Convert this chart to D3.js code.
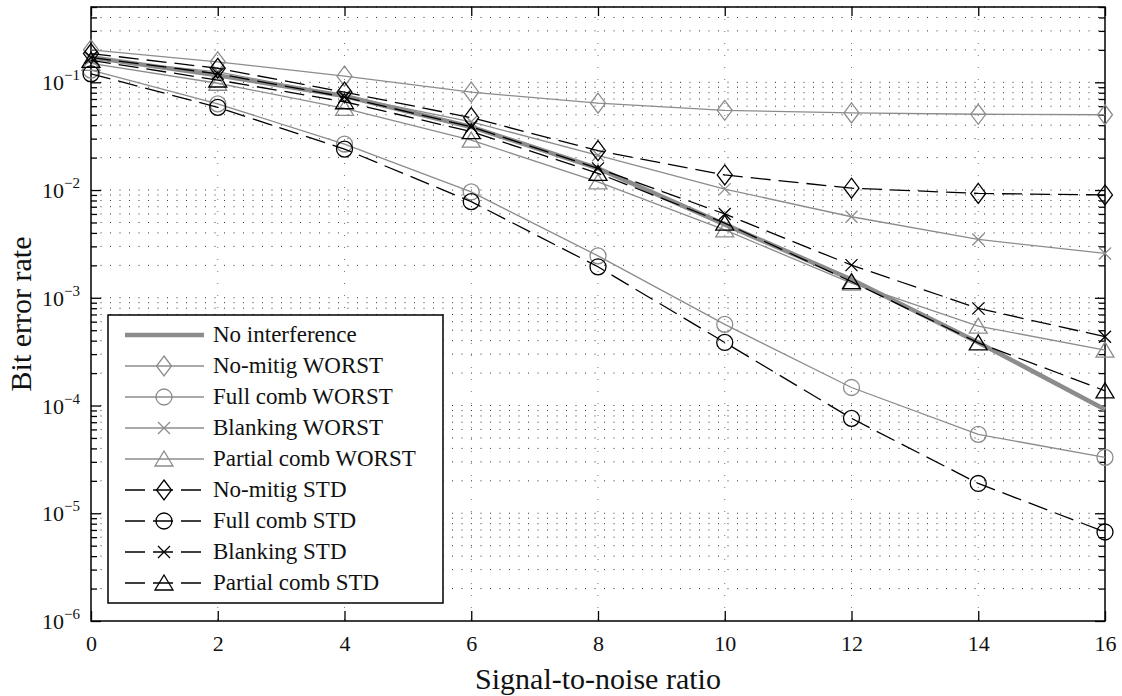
<!doctype html>
<html lang="en-US">

<head>
    <meta charset="UTF-8">
    <title>Bit error rate vs SNR</title>
    <script src="https://d3js.org/d3.v7.js" charset="utf-8"></script>
    <style>
        body { margin: 0; background: #ffffff; }
        svg text { font-family: "Liberation Serif", "DejaVu Serif", serif; fill: #111; }
    </style>
</head>

<body>
    <svg id="cvas" width="1122" height="696"></svg>
    <script>

        // ---- data ---- //
        const snr = [0, 2, 4, 6, 8, 10, 12, 14, 16];

        const no_interference   = [0.171, 0.116, 0.0746, 0.0385, 0.0159, 0.0048, 0.00148, 3.85e-4, 9.2e-5];

        const nomitig_worst     = [0.20, 0.155, 0.114, 0.081, 0.064, 0.055, 0.052, 0.0505, 0.050];
        const fullcomb_worst    = [0.13, 0.063, 0.0267, 0.0096, 0.00245, 5.66e-4, 1.47e-4, 5.4e-5, 3.3e-5];
        const blanking_worst    = [0.165, 0.125, 0.075, 0.043, 0.021, 0.0102, 0.00565, 0.00348, 0.00258];
        const partialcomb_worst = [0.15, 0.098, 0.0574, 0.0291, 0.0119, 0.00426, 0.00137, 5.46e-4, 3.27e-4];

        const nomitig_std       = [0.185, 0.135, 0.081, 0.047, 0.0232, 0.0138, 0.0104, 0.0093, 0.0090];
        const fullcomb_std      = [0.12, 0.0586, 0.024, 0.0078, 0.00194, 3.85e-4, 7.6e-5, 1.89e-5, 6.7e-6];
        const blanking_std      = [0.17, 0.12, 0.073, 0.0387, 0.0159, 0.006, 0.00201, 7.97e-4, 4.35e-4];
        const partialcomb_std   = [0.16, 0.105, 0.066, 0.0348, 0.0143, 0.00494, 0.00141, 3.82e-4, 1.37e-4];

        const x_ticks = [0, 2, 4, 6, 8, 10, 12, 14, 16];
        const y_exponents = [-6, -5, -4, -3, -2, -1];

        const legend_labels = ["No interference", "No-mitig WORST", "Full comb WORST", "Blanking WORST",
            "Partial comb WORST", "No-mitig STD", "Full comb STD", "Blanking STD", "Partial comb STD"];

        const x_label = "Signal-to-noise ratio";
        const y_label = "Bit error rate";

        // ---- style ---- //
        const GRAY = "#8c8c8c";
        const BLACK = "#000000";
        const DASH = "20,8";

        const MARKERS = {
            diamond: "M0,-10L7.5,0L0,10L-7.5,0Z",
            circle: d3.symbol(d3.symbolCircle, 201)(),
            cross: "M-6,-6L6,6M-6,6L6,-6",
            triangle: "M0,-8L9,7L-9,7Z"
        };

        // series in drawing order, the legend follows it
        const series = [
            { values: no_interference, color: GRAY, width: 4.5, dash: null, marker: null },
            { values: nomitig_worst, color: GRAY, width: 1.3, dash: null, marker: "diamond" },
            { values: fullcomb_worst, color: GRAY, width: 1.3, dash: null, marker: "circle" },
            { values: blanking_worst, color: GRAY, width: 1.3, dash: null, marker: "cross" },
            { values: partialcomb_worst, color: GRAY, width: 1.3, dash: null, marker: "triangle" },
            { values: nomitig_std, color: BLACK, width: 1.3, dash: DASH, marker: "diamond" },
            { values: fullcomb_std, color: BLACK, width: 1.3, dash: DASH, marker: "circle" },
            { values: blanking_std, color: BLACK, width: 1.3, dash: DASH, marker: "cross" },
            { values: partialcomb_std, color: BLACK, width: 1.3, dash: DASH, marker: "triangle" }
        ];

        // ---- layout ---- //
        const plot_left = 91, plot_right = 1105, plot_top = 7, plot_bottom = 621;

        const svg = d3.select("#cvas");

        const x_scale = d3.scaleLinear().domain([0, 16]).range([plot_left, plot_right]);
        const y_scale = d3.scaleLog().domain([1e-6, 0.5]).range([plot_bottom, plot_top]);

        // minor + major log values inside the domain
        let y_all = [];
        y_exponents.forEach(e => {
            for (let m = 1; m <= 9; m++) {
                let v = m * Math.pow(10, e);
                if (v <= 0.5 + 1e-12) y_all.push(v);
            }
        });
        const y_major = y_exponents.map(e => Math.pow(10, e));
        const y_minor = y_all.filter(v => !y_major.some(m => Math.abs(m - v) < m * 1e-6));

        // ---- grid ---- //
        const grid = svg.append("g").attr("class", "grid");

        grid.selectAll(".hgrid").data(y_all.filter(v => v > 1e-6))
            .enter().append("line").attr("class", "hgrid")
            .attr("x1", plot_left).attr("x2", plot_right)
            .attr("y1", d => y_scale(d)).attr("y2", d => y_scale(d))
            .style("stroke", "#333").style("stroke-width", 1)
            .style("stroke-dasharray", "1,8.5");

        grid.selectAll(".vgrid").data(x_ticks.slice(1, -1))
            .enter().append("line").attr("class", "vgrid")
            .attr("x1", d => x_scale(d)).attr("x2", d => x_scale(d))
            .attr("y1", plot_top).attr("y2", plot_bottom)
            .style("stroke", "#777").style("stroke-width", 1)
            .style("stroke-dasharray", "1,11");

        // ---- axes ---- //
        function style_axis(g) {
            g.select(".domain").remove();
            g.selectAll(".tick line").style("stroke", BLACK).style("stroke-width", 1.3);
        }

        svg.append("g").attr("transform", `translate(0,${plot_bottom})`)
            .call(d3.axisBottom(x_scale).tickValues(x_ticks).tickSizeInner(-10).tickSizeOuter(0).tickPadding(14))
            .call(style_axis)
            .selectAll("text").style("font-size", "22px").style("font-family", "Liberation Serif").attr("fill", "#111");

        svg.append("g").attr("transform", `translate(0,${plot_top})`)
            .call(d3.axisTop(x_scale).tickValues(x_ticks).tickSizeInner(-9).tickSizeOuter(0).tickFormat(""))
            .call(style_axis);

        // left / right, major and minor ticks pointing inward
        [["left", plot_left, d3.axisLeft], ["right", plot_right, d3.axisRight]].forEach(([side, pos, make_axis]) => {
            svg.append("g").attr("transform", `translate(${pos},0)`)
                .call(make_axis(y_scale).tickValues(y_major).tickSizeInner(-10).tickSizeOuter(0).tickFormat(""))
                .call(style_axis);
            svg.append("g").attr("transform", `translate(${pos},0)`)
                .call(make_axis(y_scale).tickValues(y_minor).tickSizeInner(-6).tickSizeOuter(0).tickFormat(""))
                .call(style_axis);
        });

        // y tick labels as 10^k
        const y_labels = svg.append("g").selectAll("text").data(y_exponents)
            .enter().append("text")
            .attr("x", 80).attr("y", d => y_scale(Math.pow(10, d)) + 8)
            .attr("text-anchor", "end").style("font-size", "22px");
        y_labels.append("tspan").text("10");
        y_labels.append("tspan").text(d => "\u2212" + Math.abs(d))
            .attr("dy", -10).style("font-size", "15px");

        // frame
        svg.append("rect")
            .attr("x", plot_left).attr("y", plot_top)
            .attr("width", plot_right - plot_left).attr("height", plot_bottom - plot_top)
            .style("fill", "none").style("stroke", BLACK).style("stroke-width", 1.5);

        svg.append("text").text(x_label)
            .attr("x", (plot_left + plot_right) / 2).attr("y", 689)
            .attr("text-anchor", "middle").style("font-size", "30px");

        svg.append("text").text(y_label)
            .attr("transform", `translate(31,${(plot_top + plot_bottom) / 2}) rotate(-90)`)
            .attr("text-anchor", "middle").style("font-size", "30px");

        // ---- series ---- //
        const line = d3.line()
            .x((d, i) => x_scale(snr[i]))
            .y(d => y_scale(d));

        const data_g = svg.append("g").attr("class", "series");

        series.forEach(s => {
            data_g.append("path")
                .attr("d", line(s.values))
                .style("fill", "none").style("stroke", s.color)
                .style("stroke-width", s.width)
                .style("stroke-dasharray", s.dash);

            if (s.marker) {
                data_g.selectAll(null).data(s.values)
                    .enter().append("path")
                    .attr("d", MARKERS[s.marker])
                    .attr("transform", (d, i) => `translate(${x_scale(snr[i])},${y_scale(d)})`)
                    .style("fill", "none").style("stroke", s.color).style("stroke-width", 1.3);
            }
        });

        // ---- legend ---- //
        const legend_x = 108, legend_y = 315, legend_w = 335, legend_h = 288;
        const row_y = d3.scaleLinear().domain([0, 8]).range([legend_y + 20, legend_y + 268]);

        const legend = svg.append("g").attr("class", "legend");
        legend.append("rect")
            .attr("x", legend_x).attr("y", legend_y)
            .attr("width", legend_w).attr("height", legend_h)
            .style("fill", "#fff").style("stroke", BLACK).style("stroke-width", 1.5);

        series.forEach((s, i) => {
            let ry = row_y(i);
            legend.append("line")
                .attr("x1", 125).attr("x2", 204).attr("y1", ry).attr("y2", ry)
                .style("stroke", s.color).style("stroke-width", s.width)
                .style("stroke-dasharray", s.dash);
            if (s.marker) {
                legend.append("path").attr("d", MARKERS[s.marker])
                    .attr("transform", `translate(164,${ry})`)
                    .style("fill", "none").style("stroke", s.color).style("stroke-width", 1.3);
            }
            legend.append("text").text(legend_labels[i])
                .attr("x", 213).attr("y", ry + 7)
                .style("font-size", "23px");
        });

    </script>
</body>

</html>
